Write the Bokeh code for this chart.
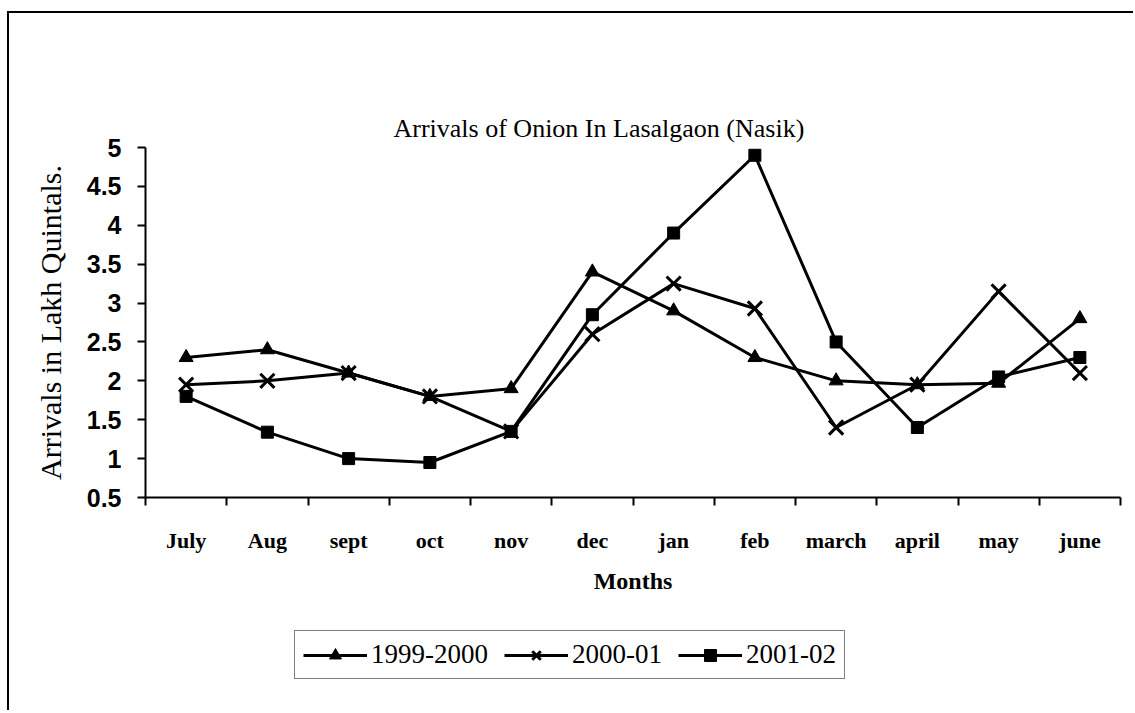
from bokeh.plotting import figure
from bokeh.layouts import column
from bokeh.models import (Range1d, LinearAxis, FixedTicker, CustomLabelingPolicy,
                          Legend, LegendItem, CustomJSTickFormatter, Title)
from bokeh.embed import file_html
from bokeh.resources import INLINE

# ---- data ----
months = ["July", "Aug", "sept", "oct", "nov", "dec", "jan", "feb", "march", "april", "may", "june"]
arrivals_1999_2000 = [2.3, 2.4, 2.1, 1.8, 1.9, 3.4, 2.9, 2.3, 2.0, 1.95, 1.97, 2.8]
arrivals_2000_01 = [1.95, 2.0, 2.1, 1.8, 1.35, 2.6, 3.25, 2.93, 1.4, 1.95, 3.15, 2.1]
arrivals_2001_02 = [1.8, 1.34, 1.0, 0.95, 1.35, 2.85, 3.9, 4.9, 2.5, 1.4, 2.05, 2.3]
series_names = ["1999-2000", "2000-01", "2001-02"]
y_ticks = [0.5, 1, 1.5, 2, 2.5, 3, 3.5, 4, 4.5, 5]
title_text = "Arrivals of Onion In Lasalgaon (Nasik)"
x_title = "Months"
y_title = "Arrivals in Lakh Quintals."

SERIF = "Liberation Serif"
SANS = "Liberation Sans"

n = len(months)
x_pos = list(range(n))                        # category index of each month
edge_ticks = [i - 0.5 for i in range(n + 1)]  # category boundaries

hide_labels = CustomLabelingPolicy(code="""
const all = Array.from(indices);
for (const i of all) { indices.unset(i); }
return indices;
""")

p = figure(width=1124, height=600, title=None,
           x_range=Range1d(-0.5, n - 0.5),
           y_range=Range1d(y_ticks[0], y_ticks[-1]),
           x_axis_location=None, y_axis_location=None,
           output_backend="svg", toolbar_location=None,
           min_border_left=136, min_border_right=13,
           min_border_top=134, min_border_bottom=116)
p.outline_line_color = None
p.background_fill_color = "white"
p.border_fill_color = "white"
p.grid.visible = False

# title, then a spacer (axis without ticks or line) between it and the frame
p.add_layout(Title(text=title_text, align="left", offset=248, standoff=10,
                   text_font=SERIF, text_font_size="26px", text_font_style="normal",
                   text_color="black"), "above")
spacer = LinearAxis(ticker=FixedTicker(ticks=[]), axis_line_color=None,
                    major_tick_line_color="black", minor_tick_line_color=None,
                    major_tick_out=78, major_tick_in=0, major_label_standoff=0)
p.add_layout(spacer, "above")

# y axis
yaxis = LinearAxis(ticker=FixedTicker(ticks=y_ticks),
                   formatter=CustomJSTickFormatter(code="return tick.toString();"),
                   axis_label=y_title,
                   axis_line_width=2, axis_line_color="black",
                   major_tick_line_width=2, major_tick_out=8, major_tick_in=0,
                   minor_tick_out=0, minor_tick_in=0,
                   major_label_standoff=16,
                   major_label_text_font=SANS, major_label_text_font_style="bold",
                   major_label_text_font_size="25px", major_label_text_color="black",
                   axis_label_standoff=17,
                   axis_label_text_font=SERIF, axis_label_text_font_style="normal",
                   axis_label_text_font_size="30px", axis_label_text_color="black")
p.add_layout(yaxis, "left")

# x axis: tick marks at category boundaries (no labels)
edge_axis = LinearAxis(ticker=FixedTicker(ticks=edge_ticks),
                       major_label_policy=hide_labels,
                       axis_line_width=2, axis_line_color="black",
                       major_tick_line_width=2, major_tick_out=8, major_tick_in=0,
                       minor_tick_out=0, minor_tick_in=0,
                       major_label_standoff=0)
p.add_layout(edge_axis, "below")

# x axis: category labels
cat_axis = LinearAxis(ticker=FixedTicker(ticks=x_pos),
                      major_label_overrides={i: m for i, m in zip(x_pos, months)},
                      axis_line_color=None, major_tick_line_color=None,
                      minor_tick_line_color=None,
                      major_tick_out=0, major_tick_in=0,
                      major_label_standoff=11,
                      major_label_text_font=SERIF, major_label_text_font_style="bold",
                      major_label_text_font_size="22px", major_label_text_color="black",
                      axis_label=x_title, axis_label_standoff=12,
                      axis_label_text_font=SERIF, axis_label_text_font_style="bold",
                      axis_label_text_font_size="24px", axis_label_text_color="black")
p.add_layout(cat_axis, "below")

# series
r1l = p.line(x_pos, arrivals_1999_2000, line_width=3, color="black")
r1m = p.scatter(x_pos, arrivals_1999_2000, marker="triangle", size=14, color="black")
r2l = p.line(x_pos, arrivals_2000_01, line_width=3, color="black")
r2m = p.scatter(x_pos, arrivals_2000_01, marker="x", size=20, line_width=3, color="black")
r3l = p.line(x_pos, arrivals_2001_02, line_width=3, color="black")
r3m = p.scatter(x_pos, arrivals_2001_02, marker="square", size=12, color="black")

# legend: its own small figure below the chart, same series and styles
# (its ranges keep the series out of view, only the legend box shows)
lf = figure(width=709, height=56, output_backend="svg", toolbar_location=None,
            x_range=Range1d(n, n + 1), y_range=Range1d(y_ticks[0], y_ticks[-1]),
            x_axis_location=None, y_axis_location=None,
            min_border_left=136, min_border_right=13, min_border_top=0, min_border_bottom=0,
            margin=(16, 0, 25, 148))
lf.outline_line_color = None
lf.grid.visible = False
l1l = lf.line(x_pos, arrivals_1999_2000, line_width=3, color="black")
l1m = lf.scatter(x_pos, arrivals_1999_2000, marker="triangle", size=12, color="black")
l2l = lf.line(x_pos, arrivals_2000_01, line_width=3, color="black")
l2m = lf.scatter(x_pos, arrivals_2000_01, marker="x", size=18, line_width=3, color="black")
l3l = lf.line(x_pos, arrivals_2001_02, line_width=3, color="black")
l3m = lf.scatter(x_pos, arrivals_2001_02, marker="square", size=10, color="black")
legend = Legend(items=[LegendItem(label=series_names[0], renderers=[l1l, l1m]),
                       LegendItem(label=series_names[1], renderers=[l2l, l2m]),
                       LegendItem(label=series_names[2], renderers=[l3l, l3m])],
                orientation="horizontal", location="top_left",
                border_line_color="black", border_line_width=1.5,
                background_fill_color="white", background_fill_alpha=1,
                padding=8, spacing=16, margin=1,
                glyph_width=64, glyph_height=30, label_standoff=4,
                label_text_font=SERIF, label_text_font_size="27px",
                label_text_color="black")
lf.add_layout(legend)

layout = column(p, lf)
layout.styles = {"border-top": "2px solid black", "border-left": "2px solid black",
                 "margin-left": "7px", "margin-top": "11px"}

open("out.html", "w").write(file_html(layout, INLINE))
